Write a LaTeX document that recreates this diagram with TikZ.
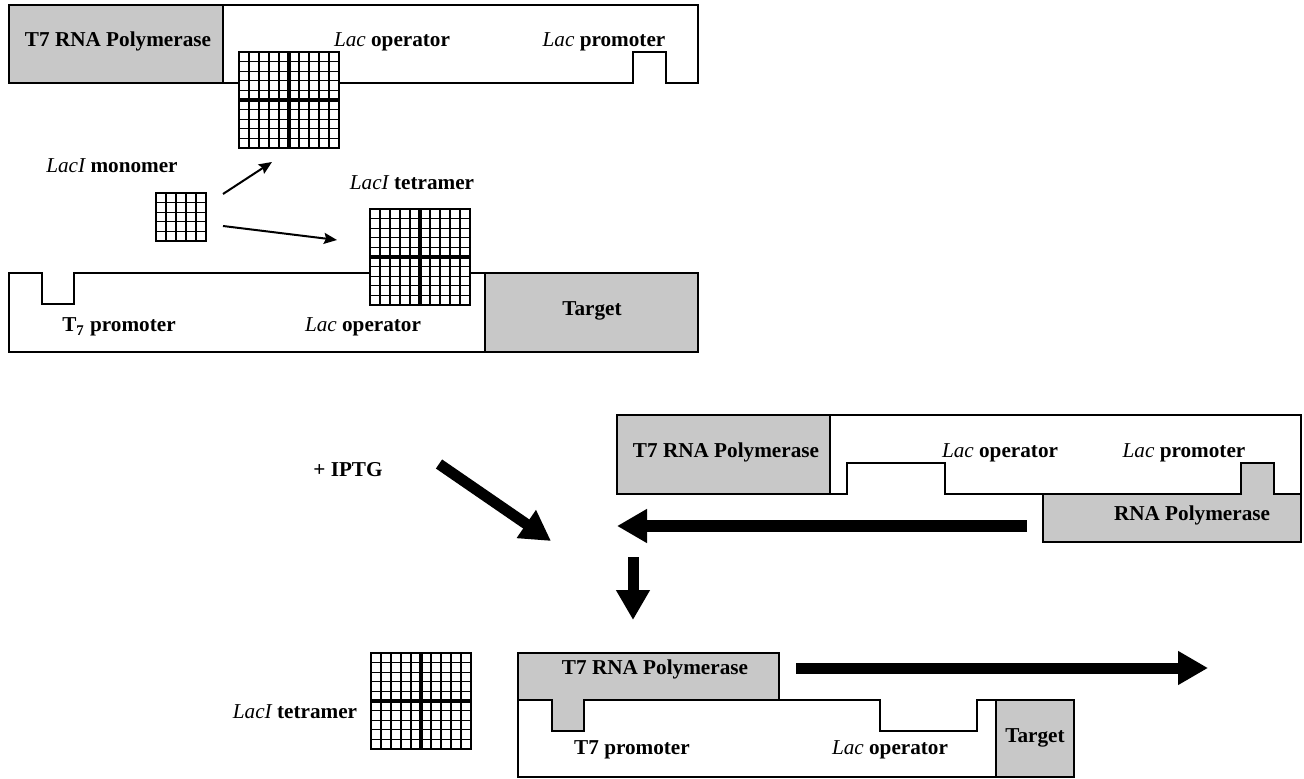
\documentclass[tikz,border=0pt]{standalone}
\usepackage{fontspec}
\setmainfont{Liberation Serif}
\usetikzlibrary{arrows.meta, positioning}

\definecolor{polgray}{RGB}{200,200,200}

\newcommand{\genename}[1]{{\normalfont\itshape #1}}
% one LacI monomer, a 5x5 grid with its top-left corner at (#2,#3)
\newcommand{\lacmono}[3]{%
  \node[monobox] (#1) at (#2,#3) {};
  \foreach \k in {1,...,4}{
    \draw[gridline] (#2+\k*10,#3) -- (#2+\k*10,#3+48);
    \draw[gridline] (#2,#3+\k*9.6) -- (#2+50,#3+\k*9.6);
  }%
}
% four monomers make one tetramer
\newcommand{\lactetra}[3]{%
  \fill[white] (#2,#3) rectangle (#2+100,#3+96);
  \foreach \q/\dx/\dy in {1/0/0,2/50/0,3/0/48,4/50/48}
    \lacmono{#1-\q}{#2+\dx}{#3+\dy};
  \draw[midline] (#1-1.north east) -- (#1-4.south west |- #1-4.south east);
  \draw[midline] (#1-1.south west) -- (#1-4.north east);
}

\begin{document}
\begin{tikzpicture}[
        x=0.5pt, y=-0.5pt,
        lbl/.style={font=\fontsize{10.6pt}{12pt}\selectfont\bfseries, inner sep=0pt, anchor=base},
        strand/.style={draw=black, line width=0.6pt, fill=white},
        polbox/.style={draw=black, line width=0.6pt, fill=polgray},
        monobox/.style={draw=black, line width=1.1pt, inner sep=0pt, outer sep=0pt,
                        minimum width=25pt, minimum height=24pt, anchor=north west},
        gridline/.style={line width=0.6pt},
        midline/.style={line width=1.6pt},
        thinarrow/.style={line width=1pt, -{Stealth[length=6.5pt,width=5.5pt,inset=1pt]}},
        bigarrow/.style={line width=5.5pt, -{Triangle[length=15pt,width=16pt]}},
    ]
    \useasboundingbox (0,0) rectangle (1304,779);

    % Repressed construct: T7 polymerase gene under the lac promoter
    \draw[strand] (223,5) -- (698,5) -- (698,83) -- (666,83) -- (666,52) -- (633,52) -- (633,83) -- (223,83);
    \draw[polbox] (9,5) rectangle (223,83);

    % Target gene under the T7 promoter
    \draw[strand] (485,273) -- (74,273) -- (74,304) -- (42,304) -- (42,273) -- (9,273) -- (9,352) -- (485,352);
    \draw[polbox] (485,273) rectangle (698,352);

    % Induced: RNA polymerase on the lac promoter
    \draw[strand] (830,415) -- (1301,415) -- (1301,494) -- (1274,494) -- (1274,463) -- (1241,463)
        -- (1241,494) -- (945,494) -- (945,463) -- (847,463) -- (847,494) -- (830,494);
    \draw[polbox] (617,415) rectangle (830,494);
    \draw[polbox] (1043,494) -- (1241,494) -- (1241,463) -- (1274,463) -- (1274,494) -- (1301,494)
        -- (1301,542) -- (1043,542) -- cycle;

    % T7 polymerase on the T7 promoter
    \draw[strand] (996,700) -- (977,700) -- (977,731) -- (880,731) -- (880,700) -- (518,700) -- (518,777) -- (996,777);
    \draw[polbox] (518,653) -- (779,653) -- (779,700) -- (584,700) -- (584,731) -- (552,731) -- (552,700) -- (518,700) -- cycle;
    \draw[polbox] (996,700) rectangle (1074,777);

    % LacI monomer and tetramers
    \lactetra{tetA}{239}{52}
    \lacmono{mono}{156}{193}
    \lactetra{tetB}{370}{209}
    \lactetra{tetC}{371}{653}

    % Arrows
    \coordinate (mono-up) at (223,194);
    \coordinate (tetA-in) at (272,162);
    \coordinate (mono-dn) at (223,226);
    \coordinate (tetB-in) at (337,240);
    \draw[thinarrow] (mono-up) -- (tetA-in);
    \draw[thinarrow] (mono-dn) -- (tetB-in);

    \coordinate (iptg-tail) at (439,464);
    \coordinate (iptg-tip) at (551,541);
    \coordinate (back-tail) at (1027,526);
    \coordinate (back-tip) at (617,526);
    \coordinate (down-tail) at (633,557);
    \coordinate (down-tip) at (633,620);
    \coordinate (run-tail) at (796,668);
    \coordinate (run-tip) at (1208,668);
    \draw[bigarrow] (iptg-tail) -- (iptg-tip);
    \draw[bigarrow] (back-tail) -- (back-tip);
    \draw[bigarrow] (down-tail) -- (down-tip);
    \draw[bigarrow] (run-tail) -- (run-tip);

    % Labels
    \node[lbl] (pol-a) at (118,47) {T7 RNA Polymerase};
    \node[lbl] (op-a) at (392,47) {\genename{Lac} operator};
    \node[lbl] (prom-a) at (604,47) {\genename{Lac} promoter};
    \node[lbl] (mono-lbl) at (112,173) {\genename{LacI} monomer};
    \node[lbl] (tetB-lbl) at (412,190) {\genename{LacI} tetramer};
    \node[lbl] (t7prom-a) at (119,332) {T\textsubscript{7} promoter};
    \node[lbl] (op-b) at (363,332) {\genename{Lac} operator};
    \node[lbl] (target-a) at (592,316) {Target};
    \node[lbl] (iptg) at (348,477) {+ IPTG};
    \node[lbl] (pol-b) at (726,458) {T7 RNA Polymerase};
    \node[lbl] (op-c) at (1000,458) {\genename{Lac} operator};
    \node[lbl] (prom-c) at (1184,458) {\genename{Lac} promoter};
    \node[lbl] (rnapol) at (1192,521) {RNA Polymerase};
    \node[lbl] (pol-c) at (655,674) {T7 RNA Polymerase};
    \node[lbl] (tetC-lbl) at (295,718) {\genename{LacI} tetramer};
    \node[lbl] (t7prom-c) at (632,754) {T7 promoter};
    \node[lbl] (op-d) at (890,754) {\genename{Lac} operator};
    \node[lbl] (target-c) at (1035,742) {Target};
\end{tikzpicture}
\end{document}
